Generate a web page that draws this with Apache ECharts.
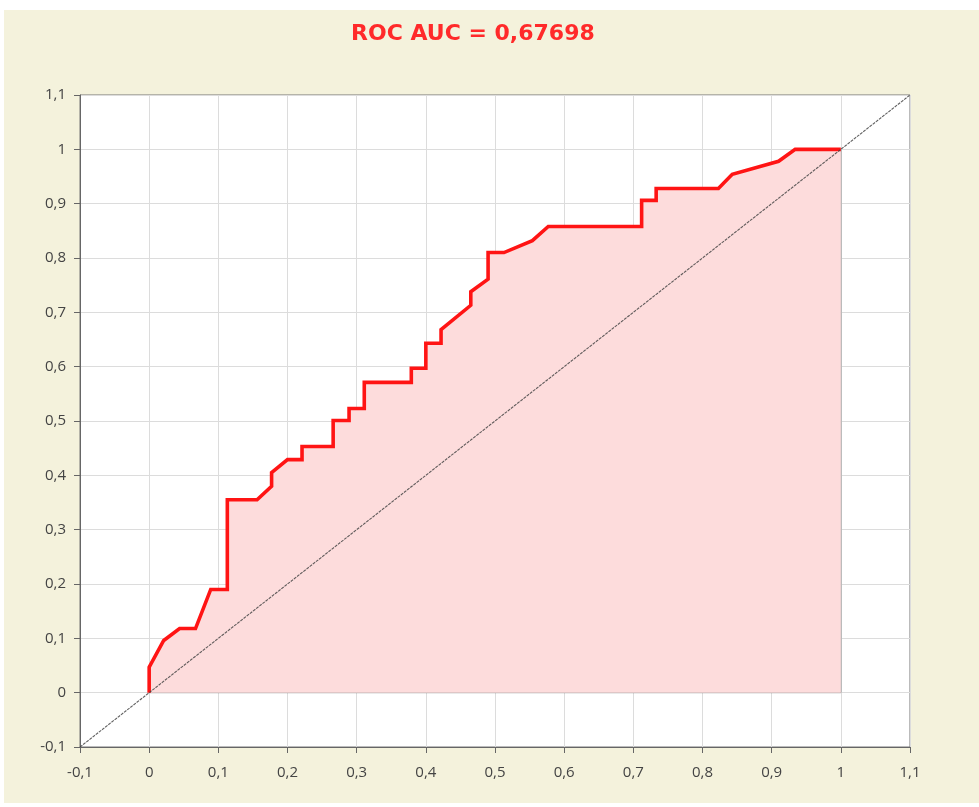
<!DOCTYPE html>
<html>
<head>
<meta charset="utf-8">
<script src="https://cdn.jsdelivr.net/npm/echarts@6/dist/echarts.min.js"></script>
<style>
  html, body { margin: 0; padding: 0; background: #fff; }
  #chart { position: absolute; left: 4px; top: 10px; width: 975px; height: 793px; }
</style>
</head>
<body>
<div id="chart"></div>
<script>
// ROC curve points (false positive rate, true positive rate)
const fpr = [0, 0, 0.021, 0.044, 0.067, 0.089, 0.113, 0.113, 0.156, 0.177, 0.177, 0.200, 0.221, 0.221,
  0.266, 0.266, 0.289, 0.289, 0.311, 0.311, 0.379, 0.379, 0.400, 0.400, 0.422, 0.422, 0.465, 0.465,
  0.490, 0.490, 0.513, 0.554, 0.577, 0.712, 0.712, 0.733, 0.733, 0.823, 0.843, 0.910, 0.934, 1];
const tpr = [0, 0.047, 0.096, 0.118, 0.118, 0.190, 0.190, 0.355, 0.355, 0.380, 0.405, 0.429, 0.429, 0.453,
  0.453, 0.501, 0.501, 0.523, 0.523, 0.571, 0.571, 0.597, 0.597, 0.643, 0.643, 0.668, 0.713, 0.738,
  0.761, 0.810, 0.810, 0.832, 0.858, 0.858, 0.906, 0.906, 0.928, 0.928, 0.954, 0.978, 1, 1];
const diagonal = [[-0.1, -0.1], [1.1, 1.1]];
const areaEdge = [[0, 0], [1, 0], [1, 1]];
const axisTicks = [-0.1, 1.1, 0.1]; // min, max, interval
const aucText = 'ROC AUC = 0,67698';

const fmt = v => String(Math.round(v * 10) / 10).replace('.', ',');
const labelStyle = { color: '#444', fontSize: 15, fontFamily: '"Open Sans", sans-serif' };

const chart = echarts.init(document.getElementById('chart'));
chart.setOption({
  backgroundColor: '#f4f2dc',
  animation: false,
  title: {
    text: aucText, left: 342, top: 8,
    textStyle: { color: '#ff2a2a', fontSize: 22, fontWeight: 'bold', fontFamily: '"DejaVu Sans", sans-serif' }
  },
  grid: {
    left: 76, right: 69, top: 85, bottom: 56,
    show: true, backgroundColor: '#fff', borderColor: '#777', borderWidth: 1
  },
  xAxis: {
    type: 'value', min: axisTicks[0], max: axisTicks[1], interval: axisTicks[2],
    axisLine: { onZero: false, lineStyle: { color: '#666' } },
    axisTick: { show: true, length: 6, lineStyle: { color: '#666' } },
    axisLabel: Object.assign({ formatter: fmt, margin: 18 }, labelStyle),
    splitLine: { lineStyle: { color: '#dcdcdc' } }
  },
  yAxis: {
    type: 'value', min: axisTicks[0], max: axisTicks[1], interval: axisTicks[2],
    axisLine: { show: true, onZero: false, lineStyle: { color: '#666' } },
    axisTick: { show: true, length: 6, lineStyle: { color: '#666' } },
    axisLabel: Object.assign({ formatter: fmt, margin: 14 }, labelStyle),
    splitLine: { lineStyle: { color: '#dcdcdc' } }
  },
  series: [
    {
      type: 'line', data: fpr.map((x, i) => [x, tpr[i]]),
      symbol: 'none', z: 3,
      lineStyle: { color: '#ff1414', width: 3.6, join: 'miter' },
      areaStyle: { color: '#fddcdc', opacity: 1, origin: 0 }
    },
    {
      type: 'line', data: areaEdge, symbol: 'none', z: 2,
      lineStyle: { color: '#777', width: 1 }
    },
    {
      type: 'line', data: diagonal, symbol: 'none', z: 4,
      lineStyle: { color: '#444', width: 1.1, type: [3, 1], opacity: 0.85 }
    }
  ]
});
</script>
</body>
</html>
